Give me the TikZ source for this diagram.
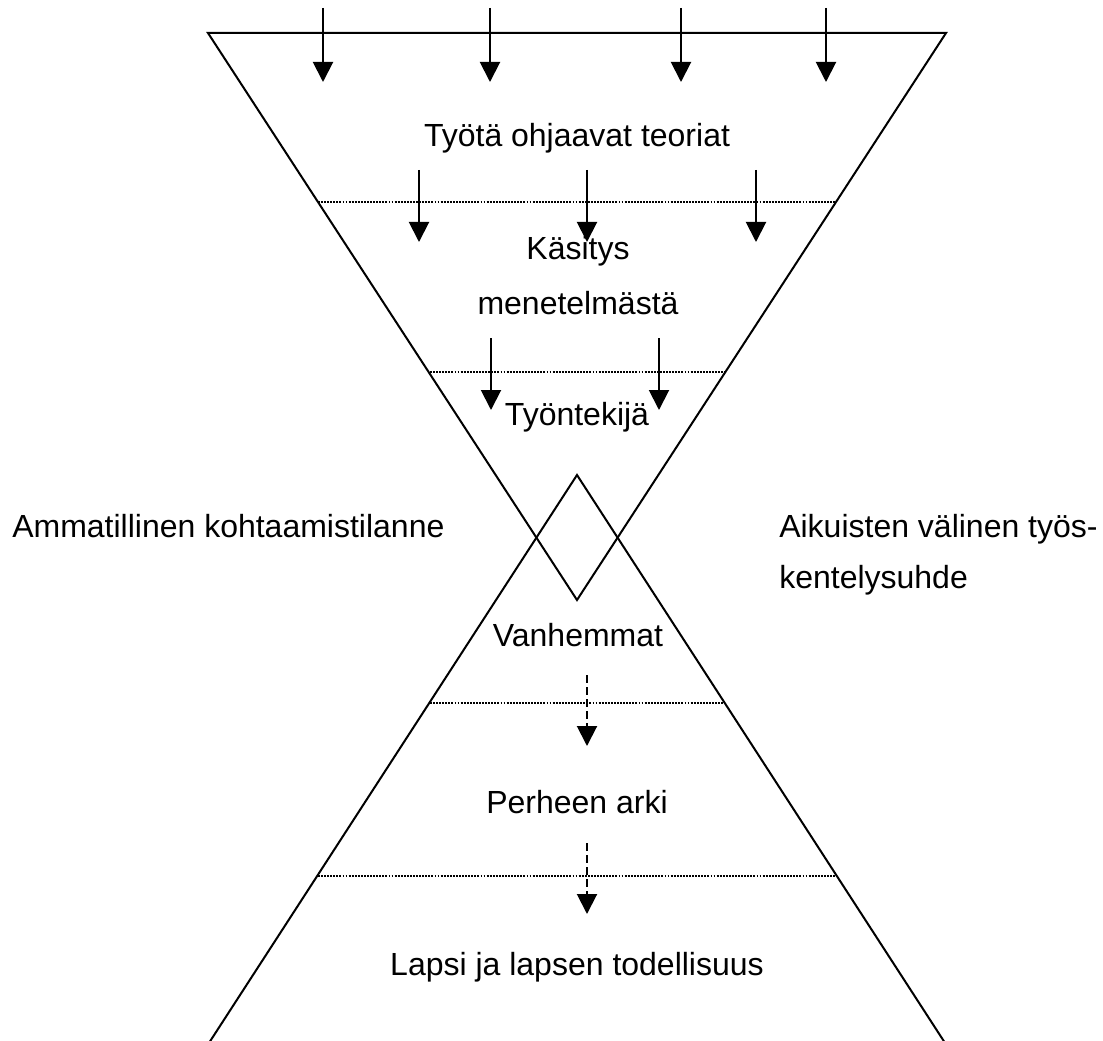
\documentclass[tikz,border=0pt]{standalone}
\usepackage{fontspec}
\setmainfont{Liberation Sans}
\usetikzlibrary{arrows.meta}
\begin{document}
\begin{tikzpicture}[x=0.75pt,y=-0.75pt,
  shape line/.style={line width=1.5pt,line join=miter},
  level line/.style={line width=0.8pt,dash pattern=on 1.4pt off 0.9pt},
  flow arrow/.style={line width=1.5pt,-{Triangle[width=15pt,length=15pt]}},
  dashed flow/.style={line width=1.5pt,dash pattern=on 6pt off 3pt,-{Triangle[width=15pt,length=15pt]}},
  label text/.style={font=\fontsize{24}{28}\selectfont,inner sep=0pt,anchor=base},
  side text/.style={font=\fontsize{24}{28}\selectfont,inner sep=0pt,anchor=base west}]
\useasboundingbox (0,0) rectangle (1103,1041);
\begin{scope}
\clip (0,0) rectangle (1103,1041);
% upper (inverted) triangle
\coordinate (UL) at (208,33);
\coordinate (UR) at (946,33);
\coordinate (UA) at (577,600);
\draw[shape line] (UL) -- (UR) -- (UA) -- cycle;
% lower triangle
\coordinate (LA) at (577,475);
\coordinate (LL) at (207,1046);
\coordinate (LR) at (947,1046);
\draw[shape line] (LL) -- (LA) -- (LR);
\end{scope}
% level lines
\coordinate (d1a) at (318,202); \coordinate (d1b) at (836,202);
\coordinate (d2a) at (430,372); \coordinate (d2b) at (725,372);
\coordinate (d3a) at (430,703); \coordinate (d3b) at (725,703);
\coordinate (d4a) at (318,876); \coordinate (d4b) at (836,876);
\draw[level line] (d1a) -- (d1b);
\draw[level line] (d2a) -- (d2b);
\draw[level line] (d3a) -- (d3b);
\draw[level line] (d4a) -- (d4b);
% arrows row 1
\foreach \i/\x in {1/323,2/490,3/681,4/826}{
  \coordinate (a\i s) at (\x,8);
  \coordinate (a\i e) at (\x,82);
  \draw[flow arrow] (a\i s) -- (a\i e);
}
% arrows row 2
\foreach \i/\x in {1/419,2/587,3/756}{
  \coordinate (b\i s) at (\x,170);
  \coordinate (b\i e) at (\x,242);
  \draw[flow arrow] (b\i s) -- (b\i e);
}
% arrows row 3
\foreach \i/\x in {1/491,2/659}{
  \coordinate (c\i s) at (\x,338);
  \coordinate (c\i e) at (\x,410);
  \draw[flow arrow] (c\i s) -- (c\i e);
}
% dashed arrows
\coordinate (e1s) at (587,675); \coordinate (e1e) at (587,746);
\coordinate (e2s) at (587,843); \coordinate (e2e) at (587,914);
\draw[dashed flow] (e1s) -- (e1e);
\draw[dashed flow] (e2s) -- (e2e);
% texts
\node[label text] (teoriat) at (577,147) {Työtä ohjaavat teoriat};
\node[label text] (kasitys) at (578,260) {Käsitys};
\node[label text] (menetelma) at (578,315) {menetelmästä};
\node[label text] (tyontekija) at (577,425) {Työntekijä};
\node[side text] (ammatillinen) at (12,537) {Ammatillinen kohtaamistilanne};
\node[side text] (aikuisten) at (779,537) {Aikuisten välinen työs-};
\node[side text] (kentely) at (779,588) {kentelysuhde};
\node[label text] (vanhemmat) at (578,646) {Vanhemmat};
\node[label text] (arki) at (577,813) {Perheen arki};
\node[label text] (lapsi) at (577,975) {Lapsi ja lapsen todellisuus};
\end{tikzpicture}
\end{document}
